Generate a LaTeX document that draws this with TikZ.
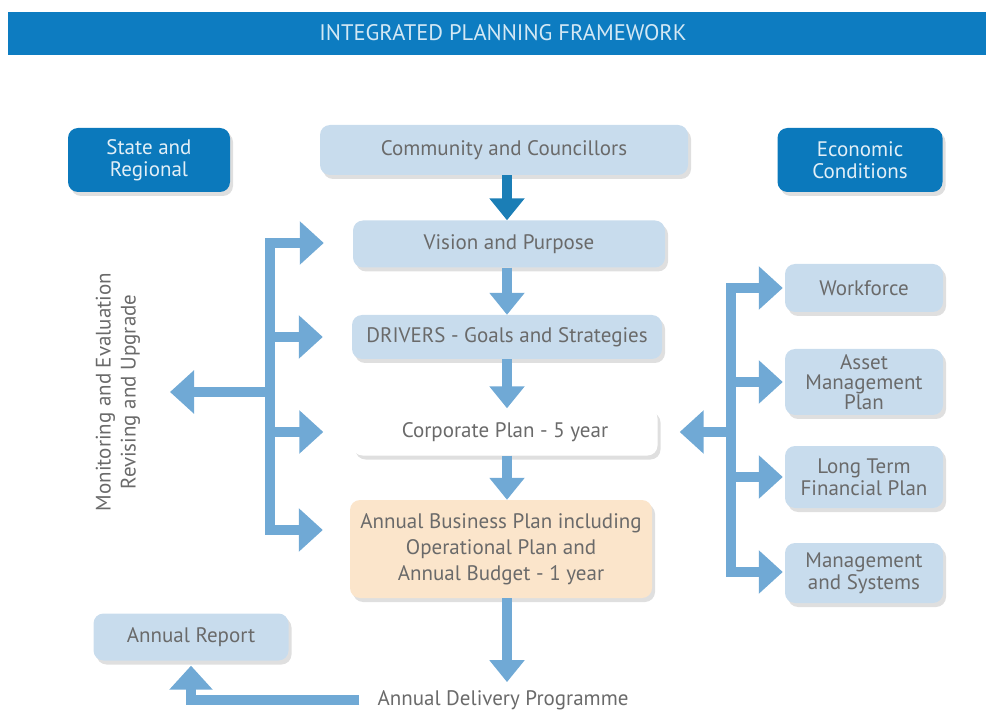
\documentclass[tikz,border=0pt]{standalone}
\usepackage{fontspec}
\setmainfont{PT Sans}
\usetikzlibrary{arrows.meta,shadows}

\definecolor{bannerblue}{HTML}{0D7CC1}
\definecolor{darkblue}{HTML}{0B79BC}
\definecolor{paleblue}{HTML}{C8DCED}
\definecolor{paleorange}{HTML}{FBE5CB}
\definecolor{flowblue}{HTML}{70A9D5}
\definecolor{deepflow}{HTML}{1B7EB6}
\definecolor{textgray}{HTML}{6A6A6A}

\begin{document}
\begin{tikzpicture}[x=1pt,y=-1pt,
  box/.style={rounded corners=10pt, inner sep=0pt, align=center,
    font=\fontsize{21}{22}\selectfont,
    drop shadow={shadow xshift=3pt, shadow yshift=-4pt, opacity=0.25}},
  darkbox/.style={box, fill=darkblue, text=white!88!darkblue},
  lightbox/.style={box, fill=paleblue, text=textgray},
  flow/.style={line width=10pt, draw=flowblue, -{Triangle[width=42pt,length=24pt]}},
  downflow/.style={line width=10pt, draw=flowblue, -{Triangle[width=34pt,length=22pt]}},
  bar/.style={line width=10pt, draw=flowblue, line cap=rect}]
\useasboundingbox (0,0) rectangle (986,711);

% title banner
\fill[bannerblue] (8,12) rectangle (986,55);
\node[text=white!82!bannerblue, font=\fontsize{22.5}{24}\selectfont] (title) at (503,33) {INTEGRATED PLANNING FRAMEWORK};

% top row
\node[darkbox, minimum width=162pt, minimum height=64pt] (state) at (149,160) {State and\\Regional};
\node[lightbox, minimum width=368pt, minimum height=50pt] (community) at (504,150) {Community and Councillors};
\node[darkbox, minimum width=165pt, minimum height=64pt] (econ) at (860,160) {Economic\\Conditions};

% centre column
\node[lightbox, minimum width=312pt, minimum height=47pt] (vision) at (509,244) {Vision and Purpose};
\node[lightbox, minimum width=310pt, minimum height=44pt] (drivers) at (507,337) {DRIVERS - Goals and Strategies};
\node[lightbox, fill=white, minimum width=305pt, minimum height=47pt] (corp) at (505,432) {Corporate Plan - 5 year};
\node[box, fill=paleorange, text=textgray, font=\fontsize{21}{26}\selectfont,
  minimum width=302pt, minimum height=98pt] (business) at (501,549)
  {Annual Business Plan including\\Operational Plan and\\Annual Budget - 1 year};
\node[text=textgray, font=\fontsize{21}{22}\selectfont, inner sep=2pt] (delivery) at (503,700) {Annual Delivery Programme};

\draw[downflow, draw=deepflow] (drivers |- community.south) -- (drivers |- vision.north);
\draw[downflow] (drivers |- vision.south) -- (drivers.north);
\draw[downflow] (drivers.south) -- (drivers |- corp.north);
\draw[downflow] (drivers |- corp.south) -- (drivers |- business.north);
\draw[downflow, shorten >=6pt] (drivers |- business.south) -- (drivers |- delivery.north);

% left side
\node[lightbox, minimum width=195pt, minimum height=47pt] (report) at (191,637) {Annual Report};
\draw[flow, shorten <=16pt, shorten >=5pt] (delivery.west) -| (report);

\node[rotate=90, text=textgray, align=center, font=\fontsize{21}{25}\selectfont] (monitor) at (118,392)
  {Monitoring and Evaluation\\Revising and Upgrade};

\coordinate (lbt) at (270,243);
\coordinate (lbb) at (270,530);
\coordinate (lout) at (170,392);
\draw[bar] (lbt) -- (lbb);
\draw[flow, shorten >=29pt] (lbt) -- (lbt -| vision.west);
\draw[flow, shorten >=29pt] (lbt |- drivers) -- (drivers);
\draw[flow, shorten >=29pt] (lbt |- corp) -- (corp);
\draw[flow, shorten >=27pt] (lbb) -- (lbb -| business.west);
\draw[flow] (lbt |- lout) -- (lout);

% right side
\node[lightbox, minimum width=158pt, minimum height=48pt] (workforce) at (864,288) {Workforce};
\node[lightbox, minimum width=158pt, minimum height=66pt, font=\fontsize{21}{20}\selectfont] (asset) at (864,382) {Asset\\Management\\Plan};
\node[lightbox, minimum width=158pt, minimum height=62pt] (longterm) at (864,477) {Long Term\\Financial Plan};
\node[lightbox, minimum width=158pt, minimum height=60pt] (systems) at (864,573) {Management\\and Systems};

\coordinate (rbt) at (731,288);
\coordinate (rbb) at (731,572);
\draw[bar] (rbt) -- (rbb);
\draw[flow, shorten >=2pt] (rbt) -- (workforce);
\draw[flow, shorten >=2pt] (rbt |- asset) -- (asset);
\draw[flow, shorten >=2pt] (rbt |- longterm) -- (longterm);
\draw[flow, shorten >=2pt] (rbb) -- (rbb -| systems.west);
\draw[flow, shorten >=22pt] (rbt |- corp) -- (corp);
\end{tikzpicture}
\end{document}
